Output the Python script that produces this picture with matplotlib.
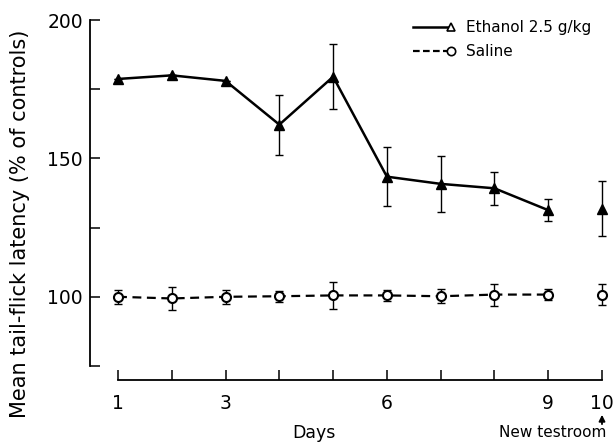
import numpy as np
import matplotlib
matplotlib.use('Agg')
import matplotlib.pyplot as plt
from matplotlib.legend_handler import HandlerLine2D
from matplotlib.lines import Line2D

days = [1, 2, 3, 4, 5, 6, 7, 8, 9, 10]
ethanol_mean = [178.7, 180.0, 178.0, 162.2, 179.5, 143.4, 140.8, 139.2, 131.3, 131.8]
ethanol_err = [0.0, 0.0, 0.0, 10.8, 11.7, 10.7, 10.1, 5.9, 4.0, 10.0]
saline_mean = [100.0, 99.4, 100.0, 100.2, 100.5, 100.5, 100.2, 100.8, 100.8, 100.8]
saline_err = [2.5, 4.0, 2.5, 2.0, 4.8, 2.0, 2.5, 4.0, 2.0, 3.9]

x_labels = {1: '1', 3: '3', 6: '6', 9: '9', 10: '10'}
y_ticks = [75, 100, 125, 150, 175, 200]
y_labels = {100: '100', 150: '150', 200: '200'}


class EndMarker(HandlerLine2D):
    # line with the marker at its right end, as in the figure's key
    def create_artists(self, legend, orig_handle, xdescent, ydescent,
                       width, height, fontsize, trans):
        y = (height - ydescent) / 2
        line = Line2D([-xdescent, -xdescent + width], [y, y])
        self.update_prop(line, orig_handle, legend)
        line.set_marker('')
        mark = Line2D([-xdescent + width], [y])
        self.update_prop(mark, orig_handle, legend)
        mark.set_linestyle('none')
        line.set_transform(trans)
        mark.set_transform(trans)
        return [line, mark]


def main():
    fig = plt.figure(figsize=(6.16, 4.45), dpi=100)
    ax = fig.add_axes([90 / 616, 79 / 445, 522 / 616, 346 / 445])
    ax.set_xlim(0.479, 10.186)
    ax.set_ylim(75, 200)

    # error bars first, markers on top
    ax.errorbar(days, ethanol_mean, yerr=ethanol_err, fmt='none',
                ecolor='black', elinewidth=1, capsize=2.7, capthick=1,
                clip_on=False)
    ax.errorbar(days, saline_mean, yerr=saline_err, fmt='none',
                ecolor='black', elinewidth=1, capsize=2.7, capthick=1,
                clip_on=False)

    # days 1-9 joined, day 10 (new testroom) stands alone
    ax.plot(days[:9], ethanol_mean[:9], color='black', lw=1.8,
            marker='^', ms=7, mfc='black', mec='black', clip_on=False)
    ax.plot(days[9:], ethanol_mean[9:], ls='none',
            marker='^', ms=7, mfc='black', mec='black', clip_on=False)
    ax.plot(days[:9], saline_mean[:9], color='black', lw=1.6,
            ls=(0, (4, 2.5)), marker='o', ms=6.5, mfc='white',
            mec='black', mew=1.5, clip_on=False)
    ax.plot(days[9:], saline_mean[9:], ls='none', marker='o', ms=6.5,
            mfc='white', mec='black', mew=1.5, clip_on=False)

    for s in ['top', 'right']:
        ax.spines[s].set_visible(False)
    ax.spines['left'].set_bounds(75, 200)
    ax.spines['left'].set_linewidth(1.3)
    ax.spines['bottom'].set_bounds(1, 10)
    ax.spines['bottom'].set_position(('outward', 10))
    ax.spines['bottom'].set_linewidth(1.3)

    ax.set_xticks(days)
    ax.set_xticklabels([x_labels.get(d, '') for d in days])
    ax.set_yticks(y_ticks)
    ax.set_yticklabels([y_labels.get(v, '') for v in y_ticks])
    ax.tick_params(axis='both', direction='in', length=7, width=1.1,
                   labelsize=13.5)
    ax.tick_params(axis='x', pad=10)
    ax.tick_params(axis='y', pad=5)

    ax.set_ylabel('Mean tail-flick latency (% of controls)', fontsize=15)
    ax.yaxis.set_label_coords(-0.115, 0.41)
    ax.set_xlabel('Days', fontsize=12.5)
    ax.xaxis.set_label_coords(0.429, -0.194)
    ax.xaxis.label.set_va('center')

    ax.annotate('', xy=(10, -0.141), xytext=(10, -0.168),
                xycoords=('data', 'axes fraction'),
                textcoords=('data', 'axes fraction'),
                arrowprops=dict(arrowstyle='-|>', color='black', lw=1.3,
                                mutation_scale=9, shrinkA=0, shrinkB=0))
    ax.text(9.09, -0.191, 'New testroom', fontsize=11, ha='center',
            va='center', transform=ax.get_xaxis_transform())

    handles = [Line2D([], [], color='black', lw=1.8, marker='^', ms=6,
                      mfc='white', mec='black', mew=1.2),
               Line2D([], [], color='black', lw=1.6, ls=(0, (3, 1.5)),
                      marker='o', ms=6, mfc='white', mec='black', mew=1.2)]
    ax.legend(handles, ['Ethanol 2.5 g/kg', 'Saline'],
              handler_map={h: EndMarker() for h in handles},
              loc='upper left', bbox_to_anchor=(413 / 616, 1 - 20 / 445),
              bbox_transform=fig.transFigure, frameon=False, fontsize=11,
              handlelength=2.5, handletextpad=1.0, labelspacing=0.62,
              borderpad=0, borderaxespad=0)

    fig.savefig('out.png', dpi=100)


if __name__ == '__main__':
    main()
